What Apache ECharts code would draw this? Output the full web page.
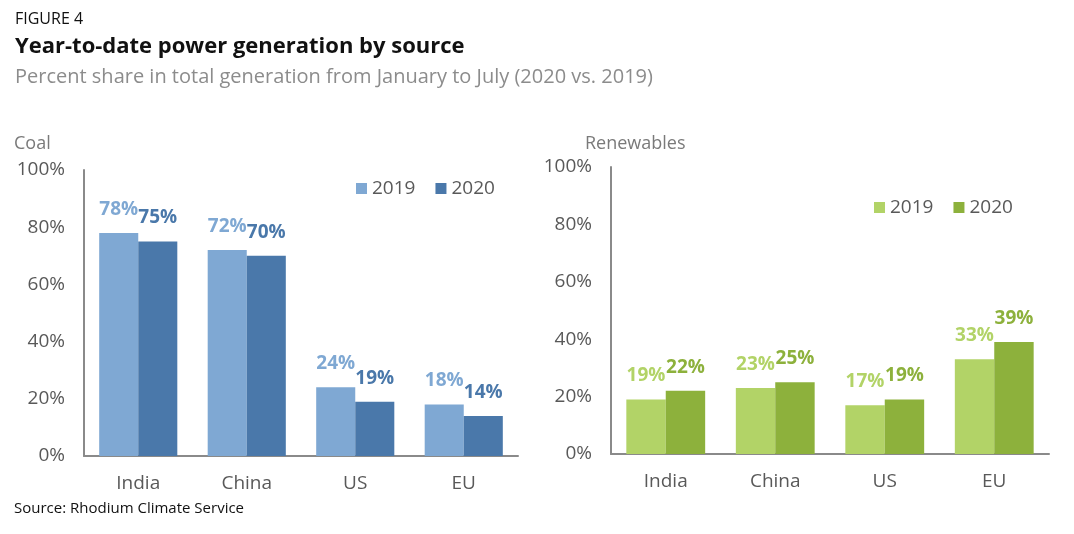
<!DOCTYPE html>
<html><head><meta charset="utf-8">
<script src="https://cdn.jsdelivr.net/npm/echarts@6/dist/echarts.min.js"></script>
<style>html,body{margin:0;padding:0;background:#fff}#c{width:1074px;height:534px}</style>
</head><body><div id="c"></div>
<script>
const categories = ['India', 'China', 'US', 'EU'];
const coal2019 = [78, 72, 24, 18];
const coal2020 = [75, 70, 19, 14];
const renew2019 = [19, 23, 17, 33];
const renew2020 = [22, 25, 19, 39];
const yTicks = [0, 20, 40, 60, 80, 100];

const FONT = '"Open Sans", sans-serif';
const C = { c19: '#7FA8D3', c20: '#4A78AA', r19: '#B2D367', r20: '#8DB13C' };
const chart = echarts.init(document.getElementById('c'));

function xAx(gi) {
  return {
    type: 'category', gridIndex: gi, data: categories,
    axisLine: { lineStyle: { color: '#8a8a8a', width: 2 } },
    axisTick: { show: false },
    axisLabel: { color: '#595959', fontSize: 19, fontFamily: FONT, margin: 18 }
  };
}
function yAx(gi) {
  return {
    type: 'value', gridIndex: gi, min: yTicks[0], max: yTicks[yTicks.length - 1], interval: 20,
    axisLine: { show: true, lineStyle: { color: '#8a8a8a', width: 2 } },
    axisTick: { show: false }, splitLine: { show: false },
    axisLabel: { color: '#595959', fontSize: 19, fontFamily: FONT, margin: 19, formatter: v => v + '%' }
  };
}
function bar(name, data, color, gi) {
  return {
    type: 'bar', name, data, xAxisIndex: gi, yAxisIndex: gi,
    barWidth: '36%', barGap: '0%',
    itemStyle: { color },
    label: { show: true, position: 'top', distance: 14, color, fontSize: 19, fontWeight: 'bold', fontFamily: FONT, formatter: p => p.value + '%' }
  };
}
const legendStyle = { color: '#595959', fontSize: 19, fontFamily: FONT };

chart.setOption({
  animation: false,
  title: [
    { text: 'FIGURE 4', left: 10, top: 6, textStyle: { fontSize: 16, fontWeight: 'normal', color: '#111', fontFamily: FONT } },
    { text: 'Year-to-date power generation by source', left: 10, top: 31, textStyle: { fontSize: 22, fontWeight: 'bold', color: '#111', fontFamily: FONT } },
    { text: 'Percent share in total generation from January to July (2020 vs. 2019)', left: 10, top: 62, textStyle: { fontSize: 20, fontWeight: 'normal', color: '#8c8c8c', fontFamily: FONT } },
    { text: 'Coal', left: 9, top: 130, textStyle: { fontSize: 18, fontWeight: 'normal', color: '#7a7a7a', fontFamily: FONT } },
    { text: 'Renewables', left: 580, top: 130, textStyle: { fontSize: 18, fontWeight: 'normal', color: '#7a7a7a', fontFamily: FONT } },
    { text: 'Source: Rhodium Climate Service', left: 9, top: 496, textStyle: { fontSize: 15, fontWeight: 'normal', color: '#111', fontFamily: FONT } }
  ],
  legend: [
    { left: 351, top: 174, itemWidth: 11, itemHeight: 11, itemGap: 20, icon: 'rect', data: ['Coal 2019', 'Coal 2020'], textStyle: legendStyle, formatter: n => n.split(' ')[1] },
    { left: 869, top: 193, itemWidth: 11, itemHeight: 11, itemGap: 20, icon: 'rect', data: ['Renewables 2019', 'Renewables 2020'], textStyle: legendStyle, formatter: n => n.split(' ')[1] }
  ],
  grid: [
    { left: 84, top: 170, width: 434, height: 286 },
    { left: 611, top: 167, width: 438, height: 287 }
  ],
  xAxis: [xAx(0), xAx(1)],
  yAxis: [yAx(0), yAx(1)],
  series: [
    bar('Coal 2019', coal2019, C.c19, 0),
    bar('Coal 2020', coal2020, C.c20, 0),
    bar('Renewables 2019', renew2019, C.r19, 1),
    bar('Renewables 2020', renew2020, C.r20, 1)
  ]
});
</script></body></html>
